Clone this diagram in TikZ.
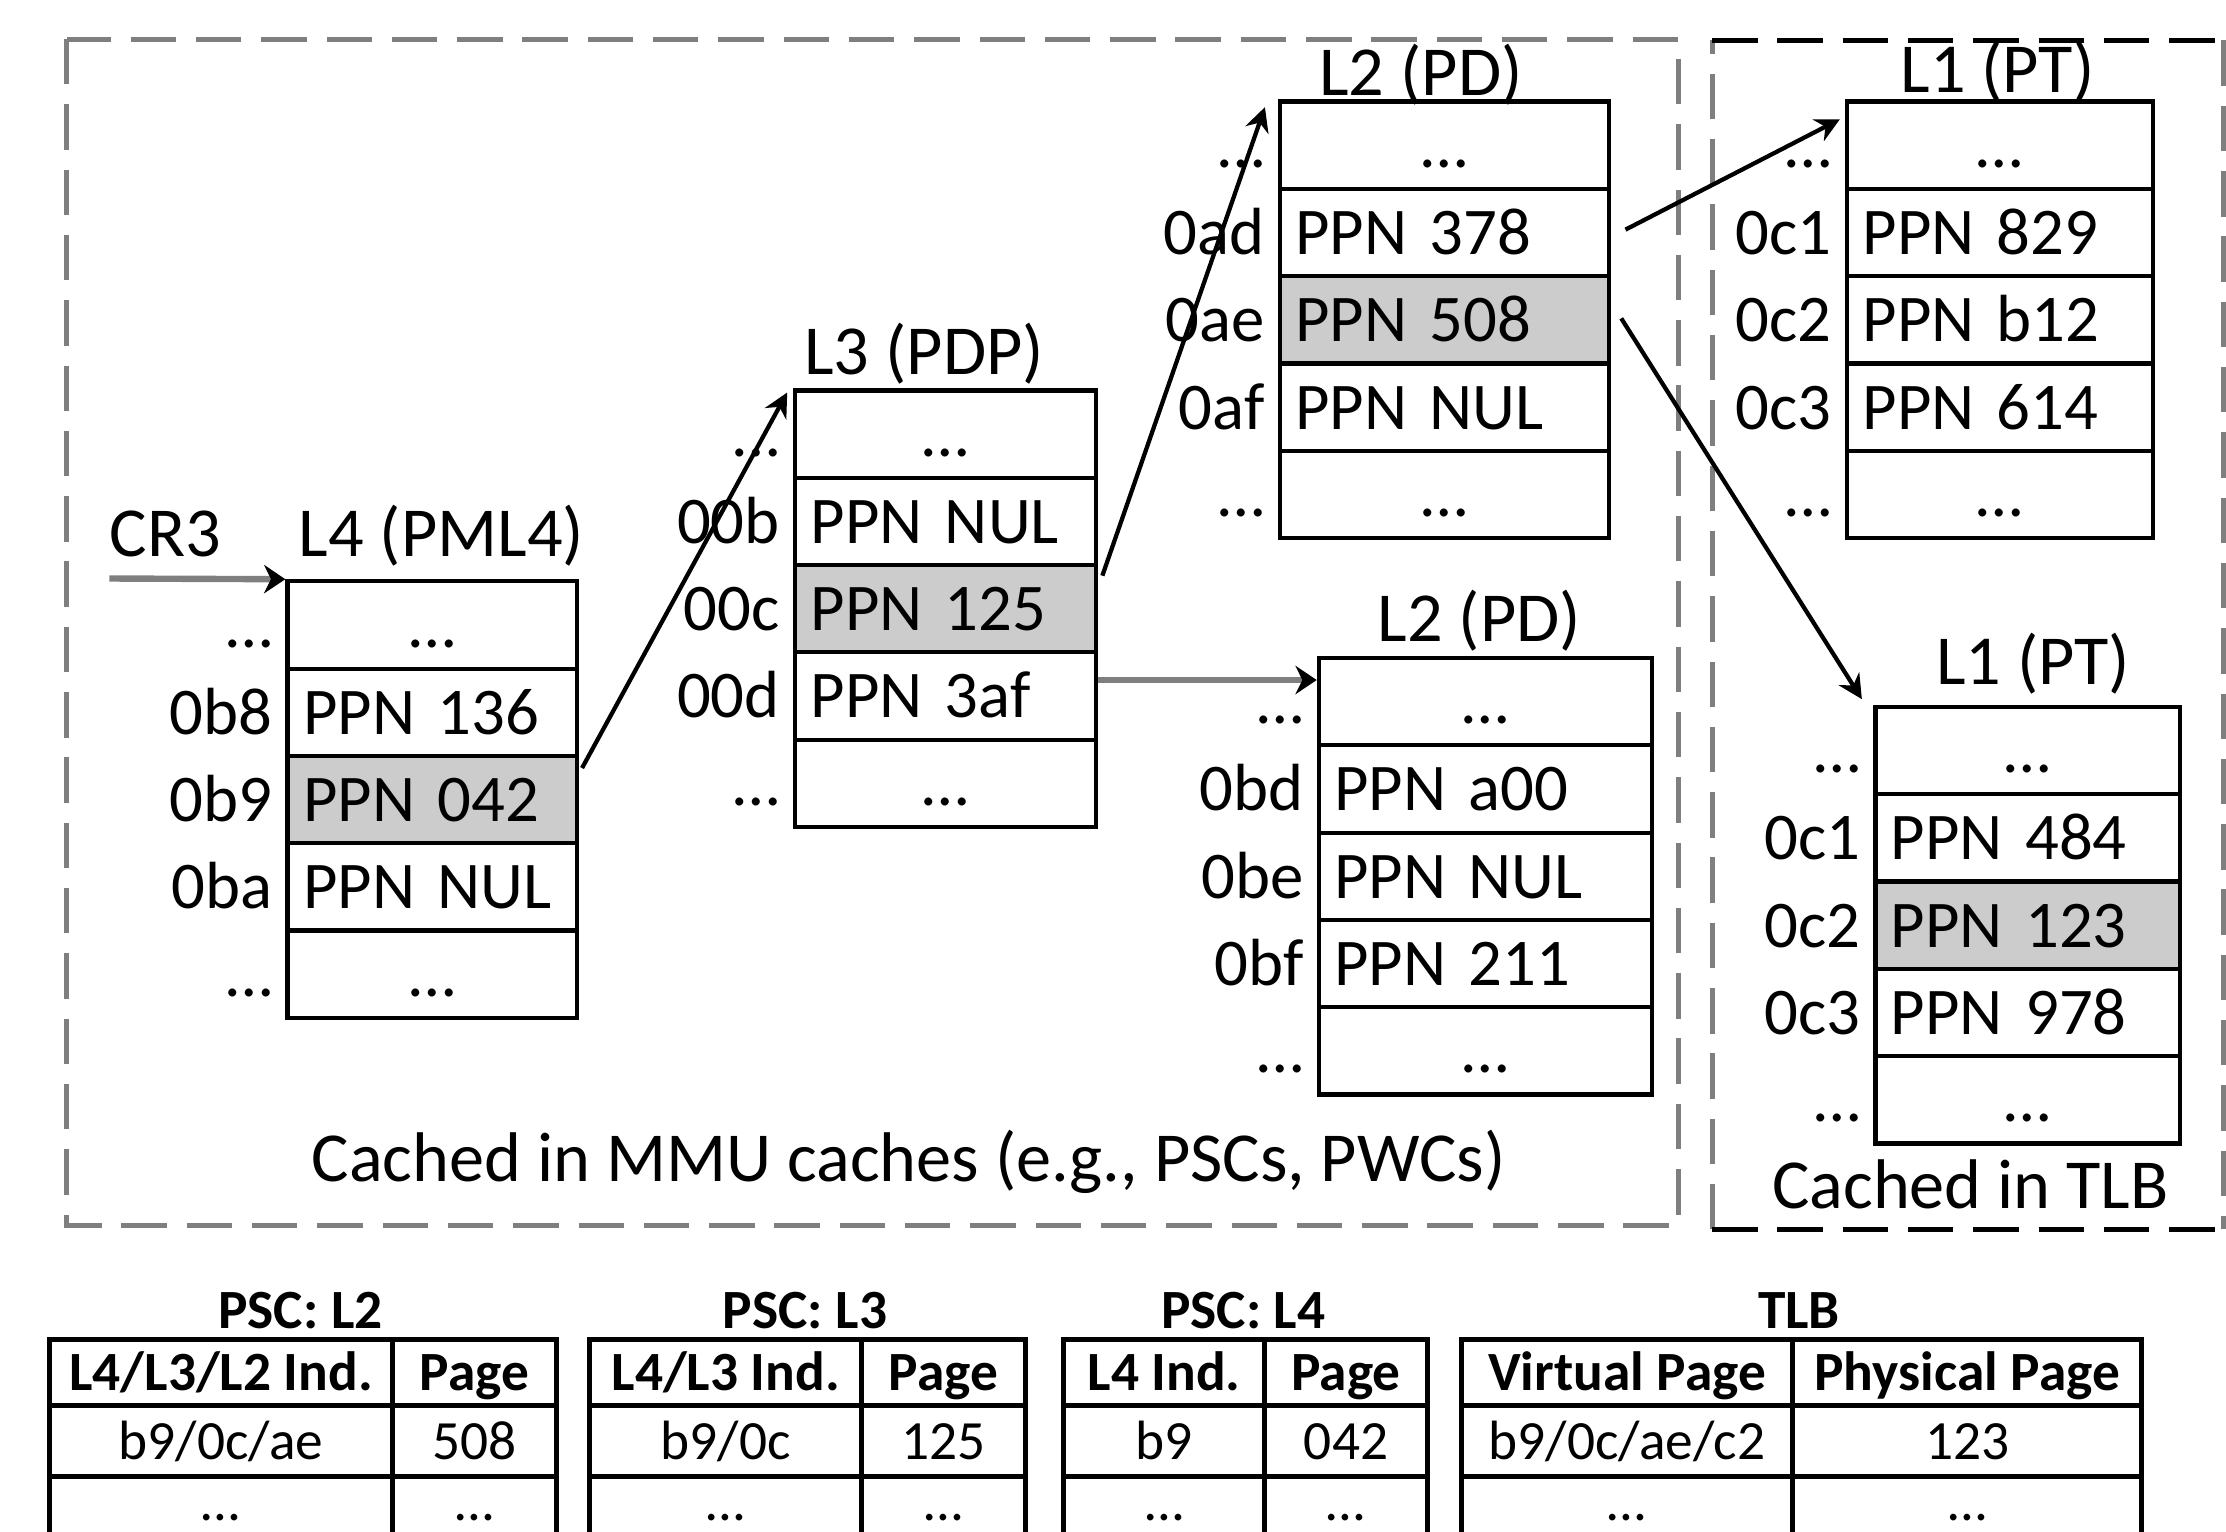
\documentclass[tikz,border=0pt]{standalone}
\usepackage{fontspec}
\setmainfont{Carlito}
\usetikzlibrary{arrows.meta,calc}
\definecolor{shade}{HTML}{CCCCCC}
\definecolor{dgray}{HTML}{7F7F7F}
\newcommand\bigtxt{\fontsize{47}{52}\selectfont}
\newcommand\captxt{\fontsize{49.5}{54}\selectfont}
\newcommand\smtxt{\fontsize{39}{44}\selectfont}
\tikzset{
 cell/.style={draw, line width=3pt, minimum height=61.5pt, text height=31pt, text depth=0pt, inner xsep=11pt, inner ysep=0pt, anchor=north west, font=\bigtxt},
 idxlab/.style={anchor=east, inner xsep=9pt, inner ysep=0pt, text height=31pt, text depth=0pt, font=\bigtxt},
 ttl/.style={anchor=base, inner sep=0pt, font=\captxt},
 arr/.style={line width=3pt, -{Stealth[length=17pt,width=17pt]}},
 garr/.style={line width=4.5pt, draw=dgray, -{Stealth[length=15pt,width=20pt,color=black]}},
 dboxg/.style={draw=dgray, line width=3.5pt, dash pattern=on 32pt off 14pt},
 dboxk/.style={draw=black, line width=3.5pt, dash pattern=on 32pt off 14pt},
 bcell/.style={draw, line width=3.5pt, anchor=north west, inner sep=0pt, text height=26pt, text depth=0pt, font=\smtxt},
 bdots/.style={inner sep=0pt, anchor=base, font=\smtxt},
}
\newcommand\pgtab[5]{%
 \pgfmathsetmacro\tw{#4-22}%
 \node[cell, minimum width=#4pt, text width=\tw pt, align=center] (#1-1) at (#2,#3) {…};
 \node[idxlab] (#1-i1) at (#1-1.west) {…};
 \foreach \idx/\txt/\fc [count=\k from 2] in {#5}{
   \node[cell, minimum width=#4pt, text width=\tw pt, align=left, fill=\fc] (#1-\k) at (#2,{#3+(\k-1)*61.5}) {\txt};
   \node[idxlab] (#1-i\k) at (#1-\k.west) {\idx};
 }
 \node[cell, minimum width=#4pt, text width=\tw pt, align=center] (#1-5) at (#2,{#3+4*61.5}) {…};
 \node[idxlab] (#1-i5) at (#1-5.west) {…};
}
\newcommand\btab[9]{%
 \pgfmathsetmacro\wa{#3-#2}\pgfmathsetmacro\wb{#4-#3}\pgfmathsetmacro\cx{(#2+#4)/2}%
 \node[anchor=base, inner sep=0pt, font=\smtxt\bfseries] (#1-t) at (\cx,935.5) {#5};
 \node[bcell, minimum width=\wa pt, minimum height=46.4pt, font=\smtxt\bfseries] (#1-h1) at (#2,941.6) {#6};
 \node[bcell, minimum width=\wb pt, minimum height=46.4pt, font=\smtxt\bfseries] (#1-h2) at (#3,941.6) {#7};
 \node[bcell, minimum width=\wa pt, minimum height=50.3pt] (#1-a1) at (#2,988) {#8};
 \node[bcell, minimum width=\wb pt, minimum height=50.3pt] (#1-a2) at (#3,988) {#9};
 \node[bcell, minimum width=\wa pt, minimum height=44pt] (#1-b1) at (#2,1038.3) {};
 \node[bcell, minimum width=\wb pt, minimum height=44pt] (#1-b2) at (#3,1038.3) {};
 \node[bdots] (#1-d1) at ($(#1-a1.south)+(0,29.5)$) {…};
 \node[bdots] (#1-d2) at ($(#1-a2.south)+(0,29.5)$) {…};
}
\begin{document}
\begin{tikzpicture}[x=1pt,y=-1pt]
\useasboundingbox (0,0) rectangle (1568,1079);
\clip (0,0) rectangle (1568,1079);
% dashed regions
\draw[dboxg] (47,27.5) rectangle (1182,863);
\draw[dboxg] (1206,866) -- (1206,28.5);
\draw[dboxk] (1206,28.5) -- (1566,28.5);
\draw[dboxg] (1566,28.5) -- (1566,866);
\draw[dboxk] (1206,866) -- (1566,866);
% page tables
\pgtab{L4}{201}{408}{204}{0b8/PPN 136/white, 0b9/PPN 042/shade, 0ba/PPN NUL/white}
\node[ttl] (L4-t) at (311,392) {L4 (PML4)};
\pgtab{L3}{558.5}{273.5}{212}{00b/PPN NUL/white, 00c/PPN 125/shade, 00d/PPN 3af/white}
\node[ttl] (L3-t) at (651,264) {L3 (PDP)};
\pgtab{L2a}{900}{70}{232}{0ad/PPN 378/white, 0ae/PPN 508/shade, 0af/PPN NUL/white}
\node[ttl] (L2a-t) at (1001,67) {L2 (PD)};
\pgtab{L1a}{1299.5}{70}{215.5}{0c1/PPN 829/white, 0c2/PPN b12/white, 0c3/PPN 614/white}
\node[ttl] (L1a-t) at (1407,65) {L1 (PT)};
\pgtab{L2b}{927.5}{462}{234.5}{0bd/PPN a00/white, 0be/PPN NUL/white, 0bf/PPN 211/white}
\node[ttl] (L2b-t) at (1042,452) {L2 (PD)};
\pgtab{L1b}{1319.5}{496.5}{214.5}{0c1/PPN 484/white, 0c2/PPN 123/shade, 0c3/PPN 978/white}
\node[ttl] (L1b-t) at (1432,482) {L1 (PT)};
% CR3
\node[anchor=base west, inner sep=0pt, font=\captxt] (cr3) at (77,392) {CR3};
\coordinate (cr3s) at (77,407.5);
\draw[garr] (cr3s) -- (L4-1.north west);
% connectors
\draw[arr] ($(L4-3.north east)+(2,10)$) -- ($(L3-1.north west)+(-4,3)$);
\draw[arr] ($(L3-3.north east)+(3,9)$) -- ($(L2a-1.north west)+(-9,5.5)$);
\draw[arr] ($(L2a-2.east)+(10,-2)$) -- ($(L1a-1.north west)+(-3.5,14)$);
\draw[arr] ($(L2a-3.east)+(7,-1)$) -- ($(L1b-1.north west)+(-8,-4)$);
\draw[garr] ($(L3-4.north east)+(0,21)$) -- ($(L2b-1.north west)+(0,17)$);
% captions
\node[anchor=base, inner sep=0pt, font=\captxt] (mmu) at (640,832) {Cached in MMU caches (e.g., PSCs, PWCs)};
\node[anchor=base, inner sep=0pt, font=\captxt] (tlbcap) at (1388,851) {Cached in TLB};
% bottom tables
\btab{P2}{33.2}{274.7}{390}{PSC: L2}{L4/L3/L2 Ind.}{Page}{b9/0c/ae}{508}
\btab{P3}{413.6}{605.3}{720.5}{PSC: L3}{L4/L3 Ind.}{Page}{b9/0c}{125}
\btab{P4}{747.6}{889}{1003.8}{PSC: L4}{L4 Ind.}{Page}{b9}{042}
\btab{T}{1027.6}{1261}{1506.8}{TLB}{Virtual Page}{Physical Page}{b9/0c/ae/c2}{123}
\end{tikzpicture}
\end{document}
